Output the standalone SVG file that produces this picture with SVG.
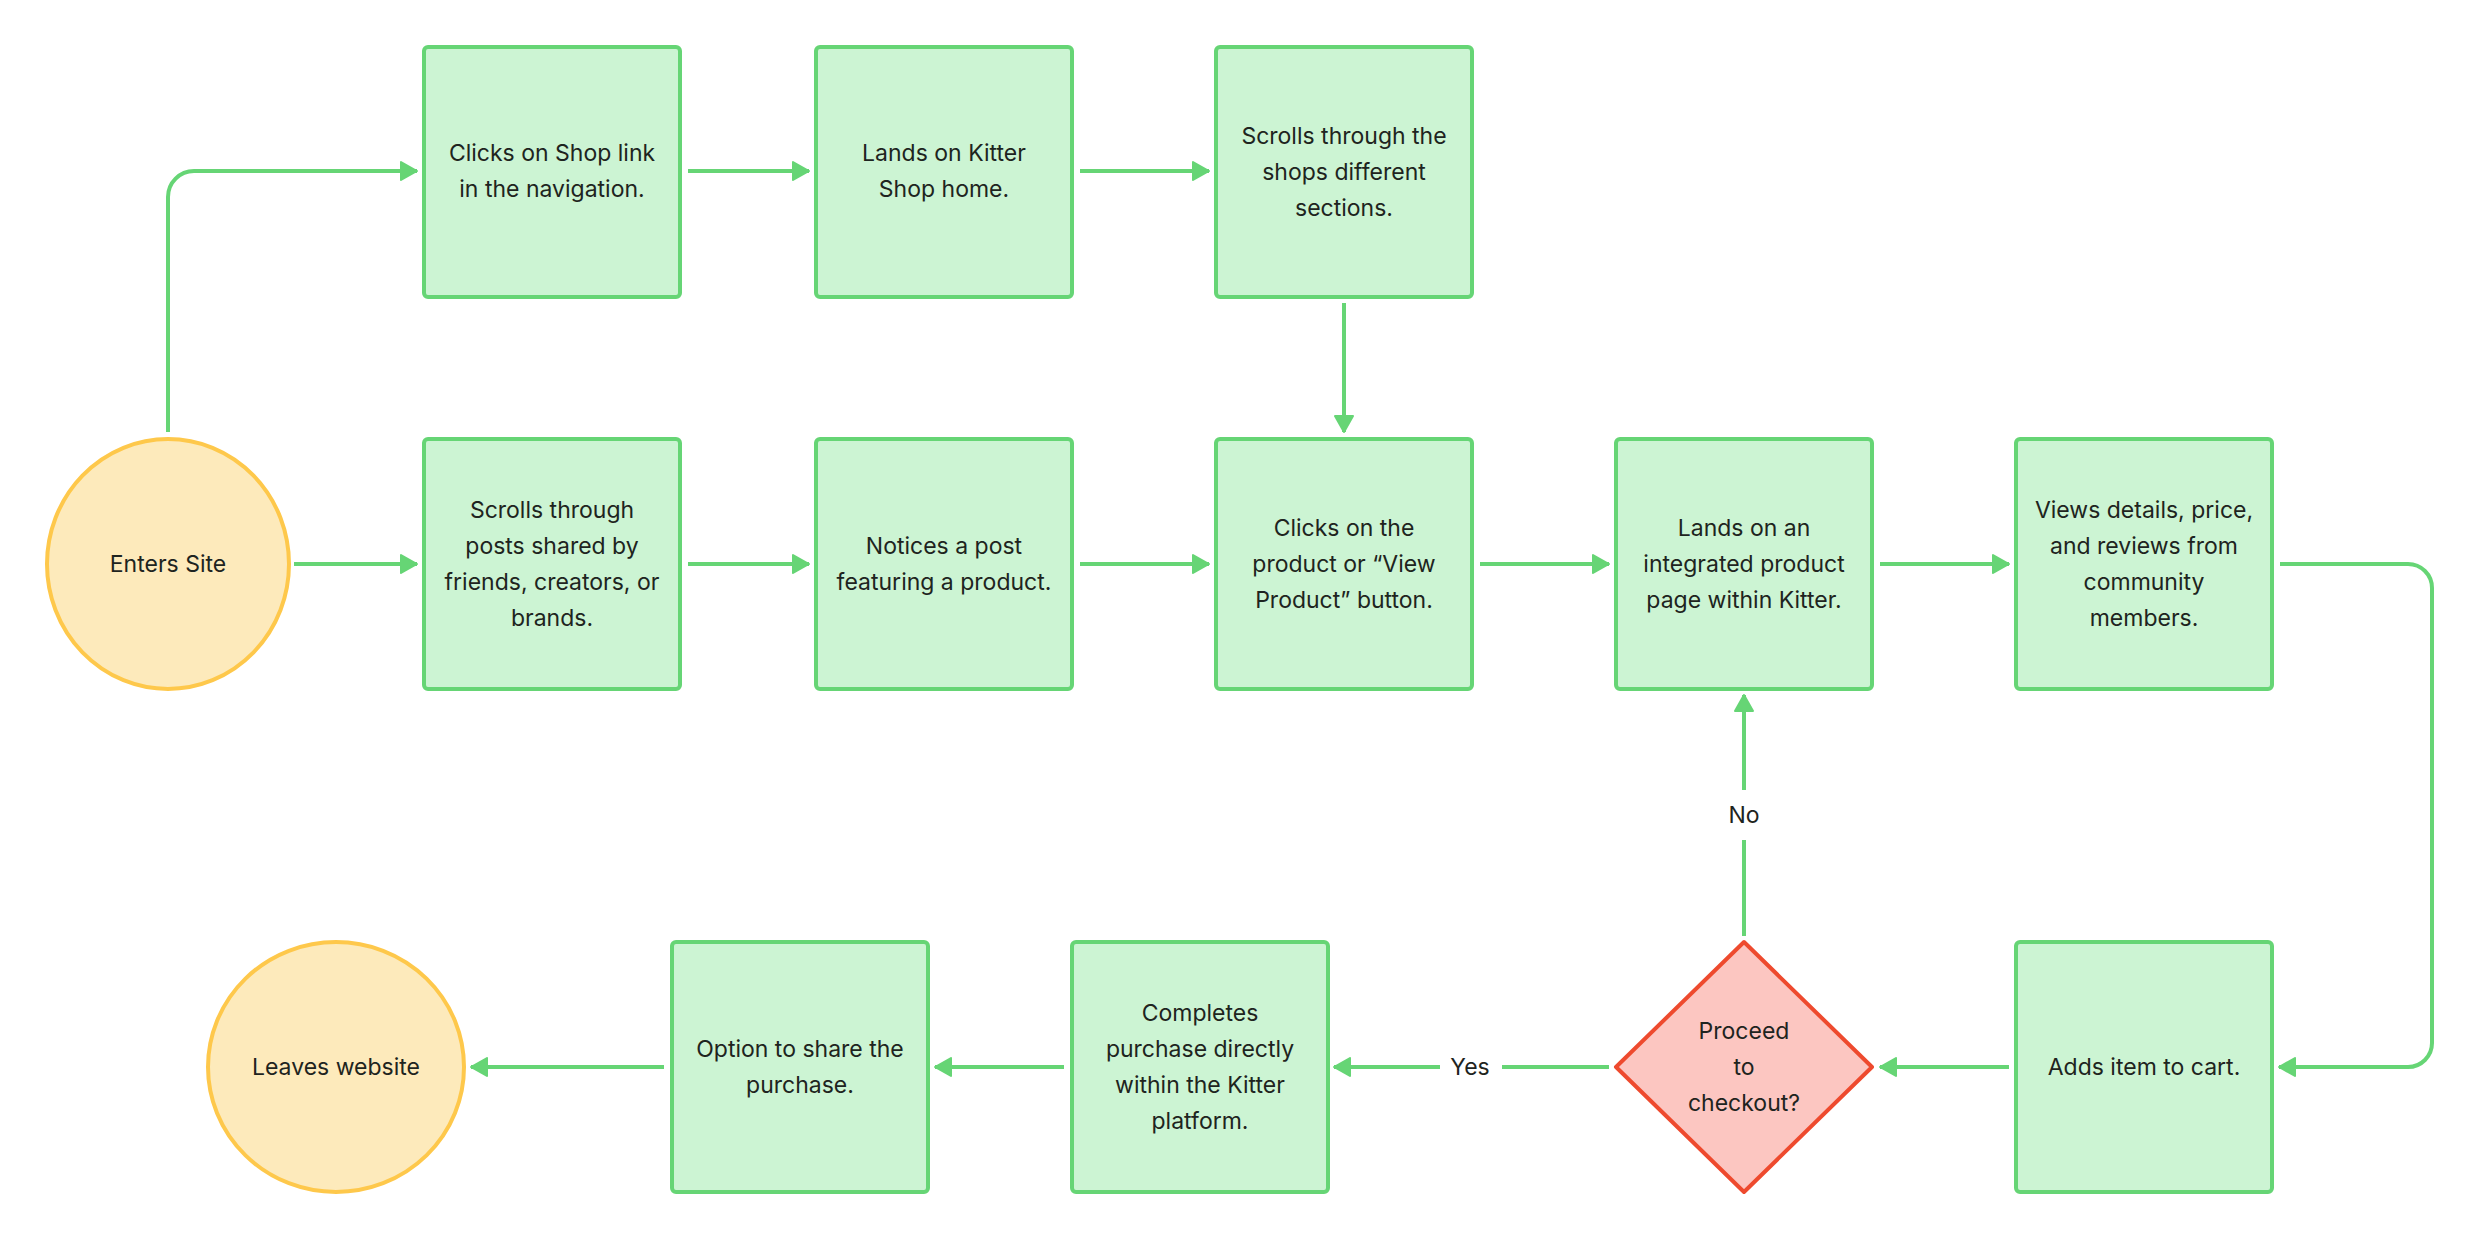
<svg xmlns="http://www.w3.org/2000/svg" width="2480" height="1240" viewBox="0 0 2480 1240">
<defs>
<marker id="ah" viewBox="0 0 18 20" refX="17" refY="10" markerWidth="18" markerHeight="20" markerUnits="userSpaceOnUse" orient="auto">
<path d="M1,1 L17,10 L1,19 z" fill="#66D575" stroke="#66D575" stroke-width="2" stroke-linejoin="round"/>
</marker>
<style>
.box{fill:#CCF4D3;stroke:#66D575;stroke-width:4}
.term{fill:#FDEABB;stroke:#FEC84B;stroke-width:4}
.dec{fill:#FCC6C1;stroke:#EE4A2E;stroke-width:4;stroke-linejoin:round}
.t{font-family:Inter,"Noto Sans","Liberation Sans",sans-serif;font-size:23px;fill:#1E2420;text-anchor:middle;dominant-baseline:central}
.c{fill:none;stroke:#66D575;stroke-width:4;marker-end:url(#ah)}
.lblbg{fill:#FFFFFF}
</style>
</defs>
<rect width="2480" height="1240" fill="#FFFFFF"/>
<g id="connectors">
<path class="c" d="M168,432 V197 A26,26 0 0 1 194,171 H417"/>
<path class="c" d="M294,564 H417"/>
<path class="c" d="M688,171 H809"/>
<path class="c" d="M1080,171 H1209"/>
<path class="c" d="M1344,303 V432"/>
<path class="c" d="M688,564 H809"/>
<path class="c" d="M1080,564 H1209"/>
<path class="c" d="M1480,564 H1609"/>
<path class="c" d="M1880,564 H2009"/>
<path class="c" d="M2280,564 H2408 A24,24 0 0 1 2432,588 V1043 A24,24 0 0 1 2408,1067 H2279"/>
<path class="c" d="M2009,1067 H1880"/>
<path class="c" d="M1744,936 V695"/>
<rect class="lblbg" x="1720" y="790" width="48" height="50"/>
<text class="t" x="1744" y="815">No</text>
<path class="c" d="M1609,1067 H1334"/>
<rect class="lblbg" x="1440" y="1047" width="62" height="40"/>
<text class="t" x="1470" y="1067">Yes</text>
<path class="c" d="M1064,1067 H935"/>
<path class="c" d="M664,1067 H471"/>
</g>
<g id="enters-site">
<ellipse class="term" cx="168" cy="564" rx="121" ry="125"/>
<text class="t" x="168" y="564">Enters Site</text>
</g>
<g id="clicks-shop-link">
<rect class="box" x="424" y="47" width="256" height="250" rx="4"/>
<text class="t" x="552" y="153">Clicks on Shop link</text>
<text class="t" x="552" y="189">in the navigation.</text>
</g>
<g id="lands-shop-home">
<rect class="box" x="816" y="47" width="256" height="250" rx="4"/>
<text class="t" x="944" y="153">Lands on Kitter</text>
<text class="t" x="944" y="189">Shop home.</text>
</g>
<g id="scrolls-shop-sections">
<rect class="box" x="1216" y="47" width="256" height="250" rx="4"/>
<text class="t" x="1344" y="136">Scrolls through the</text>
<text class="t" x="1344" y="172">shops different</text>
<text class="t" x="1344" y="208">sections.</text>
</g>
<g id="scrolls-posts">
<rect class="box" x="424" y="439" width="256" height="250" rx="4"/>
<text class="t" x="552" y="510">Scrolls through</text>
<text class="t" x="552" y="546">posts shared by</text>
<text class="t" x="552" y="582">friends, creators, or</text>
<text class="t" x="552" y="618">brands.</text>
</g>
<g id="notices-post">
<rect class="box" x="816" y="439" width="256" height="250" rx="4"/>
<text class="t" x="944" y="546">Notices a post</text>
<text class="t" x="944" y="582">featuring a product.</text>
</g>
<g id="clicks-product">
<rect class="box" x="1216" y="439" width="256" height="250" rx="4"/>
<text class="t" x="1344" y="528">Clicks on the</text>
<text class="t" x="1344" y="564">product or “View</text>
<text class="t" x="1344" y="600">Product” button.</text>
</g>
<g id="product-page">
<rect class="box" x="1616" y="439" width="256" height="250" rx="4"/>
<text class="t" x="1744" y="528">Lands on an</text>
<text class="t" x="1744" y="564">integrated product</text>
<text class="t" x="1744" y="600">page within Kitter.</text>
</g>
<g id="views-details">
<rect class="box" x="2016" y="439" width="256" height="250" rx="4"/>
<text class="t" x="2144" y="510">Views details, price,</text>
<text class="t" x="2144" y="546">and reviews from</text>
<text class="t" x="2144" y="582">community</text>
<text class="t" x="2144" y="618">members.</text>
</g>
<g id="adds-to-cart">
<rect class="box" x="2016" y="942" width="256" height="250" rx="4"/>
<text class="t" x="2144" y="1067">Adds item to cart.</text>
</g>
<g id="proceed-checkout">
<path class="dec" d="M1744,942 L1872,1067 L1744,1192 L1616,1067 Z"/>
<text class="t" x="1744" y="1031">Proceed</text>
<text class="t" x="1744" y="1067">to</text>
<text class="t" x="1744" y="1103">checkout?</text>
</g>
<g id="completes-purchase">
<rect class="box" x="1072" y="942" width="256" height="250" rx="4"/>
<text class="t" x="1200" y="1013">Completes</text>
<text class="t" x="1200" y="1049">purchase directly</text>
<text class="t" x="1200" y="1085">within the Kitter</text>
<text class="t" x="1200" y="1121">platform.</text>
</g>
<g id="share-purchase">
<rect class="box" x="672" y="942" width="256" height="250" rx="4"/>
<text class="t" x="800" y="1049">Option to share the</text>
<text class="t" x="800" y="1085">purchase.</text>
</g>
<g id="leaves-website">
<ellipse class="term" cx="336" cy="1067" rx="128" ry="125"/>
<text class="t" x="336" y="1067">Leaves website</text>
</g>
</svg>
